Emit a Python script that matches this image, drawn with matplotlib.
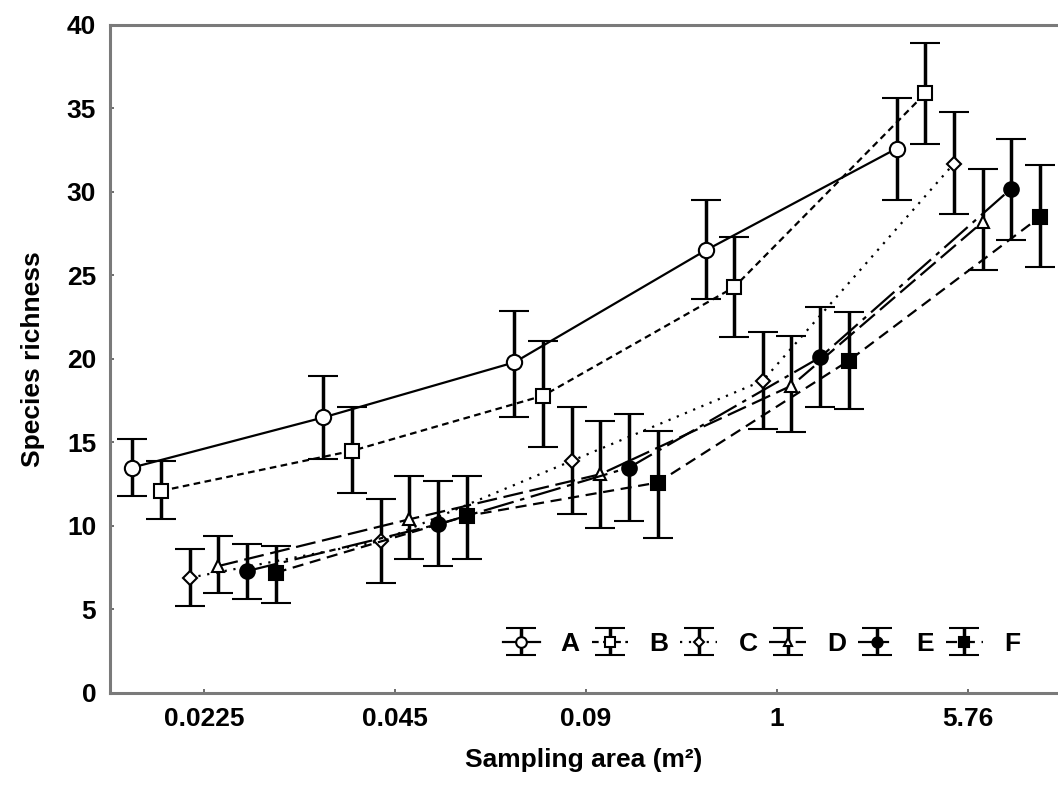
import numpy as np
import matplotlib.pyplot as plt

plt.rcParams['font.family'] = ['Liberation Sans', 'DejaVu Sans']

areas = ['0.0225', '0.045', '0.09', '1', '5.76']
series = ['A', 'B', 'C', 'D', 'E', 'F']

# mean species richness and error bar ends
mean_a = [13.5, 16.5, 19.8, 26.5, 32.6]
low_a = [11.8, 14.0, 16.5, 23.6, 29.5]
high_a = [15.2, 19.0, 22.9, 29.5, 35.6]

mean_b = [12.1, 14.5, 17.8, 24.3, 35.9]
low_b = [10.4, 12.0, 14.7, 21.3, 32.9]
high_b = [13.9, 17.1, 21.1, 27.3, 38.9]

mean_c = [6.9, 9.1, 13.9, 18.7, 31.7]
low_c = [5.2, 6.6, 10.7, 15.8, 28.7]
high_c = [8.6, 11.6, 17.1, 21.6, 34.8]

mean_d = [7.6, 10.4, 13.1, 18.4, 28.2]
low_d = [6.0, 8.0, 9.9, 15.6, 25.3]
high_d = [9.4, 13.0, 16.3, 21.4, 31.4]

mean_e = [7.3, 10.1, 13.5, 20.1, 30.2]
low_e = [5.6, 7.6, 10.3, 17.1, 27.1]
high_e = [8.9, 12.7, 16.7, 23.1, 33.2]

mean_f = [7.2, 10.6, 12.6, 19.9, 28.5]
low_f = [5.4, 8.0, 9.3, 17.0, 25.5]
high_f = [8.8, 13.0, 15.7, 22.8, 31.6]

means = [mean_a, mean_b, mean_c, mean_d, mean_e, mean_f]
lows = [low_a, low_b, low_c, low_d, low_e, low_f]
highs = [high_a, high_b, high_c, high_d, high_e, high_f]

markers = ['o', 's', 'D', '^', 'o', 's']
msizes = [11, 9.5, 7, 8, 10.5, 10]
faces = ['white', 'white', 'white', 'white', 'black', 'black']
styles = ['-', (0, (3, 2)), (0, (1, 3)), (0, (9, 3)), (0, (14, 3, 2, 3)), (0, (5, 3))]

fig = plt.figure(figsize=(10.58, 7.88), dpi=100)
ax = fig.add_axes([0.104, 0.1206, 0.896, 0.8477])

x = np.arange(len(areas))
handles = []
for i in range(len(series)):
    xs = x + (i - 2.5) * 0.15
    m = np.array(means[i])
    err = [m - np.array(lows[i]), np.array(highs[i]) - m]
    h = ax.errorbar(xs, m, yerr=err, color='black', lw=1.6, ls=styles[i],
                    marker=markers[i], ms=msizes[i], mfc=faces[i], mec='black',
                    mew=1.5, ecolor='black', elinewidth=2.5, capsize=11,
                    capthick=2.5, label=series[i], zorder=3)
    h[-1][0].set_linestyle('-')
    handles.append(h)

ax.set_xlim(-0.492, 4.47)
ax.set_ylim(0, 40)
ax.set_xticks(x)
ax.set_xticklabels(areas, fontsize=19, fontweight='bold')
ax.set_yticks(np.arange(0, 41, 5))
ax.set_yticklabels([str(v) for v in range(0, 41, 5)], fontsize=19, fontweight='bold')
ax.tick_params(direction='in', length=3, width=1.2, color='#555555', pad=10)

for side in ['left', 'bottom', 'top']:
    ax.spines[side].set_color('#7a7a7a')
    ax.spines[side].set_linewidth(2.2)
ax.spines['right'].set_visible(False)

ax.set_xlabel('Sampling area (m²)', fontsize=19, fontweight='bold', labelpad=12)
ax.set_ylabel('Species richness', fontsize=19, fontweight='bold', labelpad=16)

leg = ax.legend(handles=handles, labels=series, ncol=6, frameon=False,
                loc='lower right', bbox_to_anchor=(0.985, 0.02),
                handlelength=1.4, handletextpad=0.8, columnspacing=0.45,
                markerscale=0.7, prop={'size': 19, 'weight': 'bold'})

fig.savefig('out.png', dpi=100)
